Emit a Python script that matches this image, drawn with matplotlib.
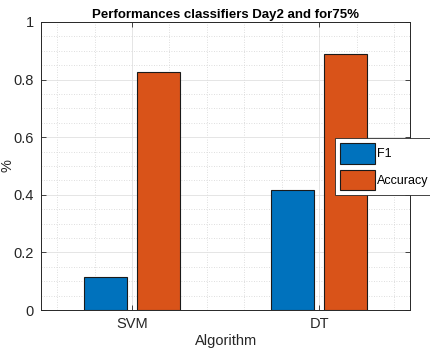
import numpy as np
import matplotlib
matplotlib.use("Agg")
import matplotlib.pyplot as plt
from matplotlib.ticker import MultipleLocator, FixedLocator

# data
algorithms = ["SVM", "DT"]
f1_scores = [0.115, 0.417]
accuracy = [0.826, 0.889]
series_names = ["F1", "Accuracy"]

plt.rcParams["font.family"] = ["Liberation Sans", "DejaVu Sans"]

fig = plt.figure(figsize=(4.31, 3.48), dpi=100)
ax = fig.add_axes([0.095, 0.109, 0.857, 0.828])

x = np.arange(1, len(algorithms) + 1)
w = 0.23
off = 0.142
blue = "#0072BD"
orange = "#D95319"
ax.bar(x - off, f1_scores, w, color=blue, edgecolor="#1a1a1a", lw=0.8,
       label=series_names[0], zorder=3)
ax.bar(x + off, accuracy, w, color=orange, edgecolor="#1a1a1a", lw=0.8,
       label=series_names[1], zorder=3)

ax.set_xlim(0.513, 2.487)
ax.set_ylim(0, 1)
ax.set_xticks(x)
ax.set_xticklabels(algorithms)
ax.set_yticks(np.arange(0, 1.01, 0.2))
ax.set_yticklabels(["0", "0.2", "0.4", "0.6", "0.8", "1"])
ax.xaxis.set_minor_locator(FixedLocator([0.6, 0.8, 1.2, 1.4, 1.6, 1.8, 2.2, 2.4]))
ax.yaxis.set_minor_locator(MultipleLocator(0.05))

ax.grid(True, which="major", color="#e0e0e0", lw=0.6, ls="-", zorder=0)
ax.grid(True, which="minor", color="#d4d4d4", lw=0.6, ls=(0, (1, 2)), zorder=0)
ax.tick_params(which="major", direction="in", length=3.5, width=0.6,
               top=True, right=True, labelsize=10.5, colors="#262626",
               labelcolor="#262626", pad=5)
ax.tick_params(which="minor", length=0)
for s in ax.spines.values():
    s.set_color("#262626")
    s.set_linewidth(0.7)

ax.set_title("Performances classifiers Day2 and for75%", fontsize=9.5,
             fontweight="bold", pad=3)
ax.set_xlabel("Algorithm", fontsize=10.5, color="#262626", labelpad=2)
ax.set_ylabel("%", fontsize=10.5, color="#262626")
ax.yaxis.set_label_coords(-0.072, 0.5)

leg = ax.legend(loc="upper left", bbox_to_anchor=(0.795, 0.597), fontsize=9,
                handlelength=2.8, handleheight=2.15, handletextpad=0.22,
                borderaxespad=0, borderpad=0.4, labelspacing=0.48,
                fancybox=False, framealpha=1)
leg.get_frame().set_edgecolor("#262626")
leg.get_frame().set_linewidth(0.6)
leg.set_zorder(5)

fig.savefig("out.png", dpi=100)
